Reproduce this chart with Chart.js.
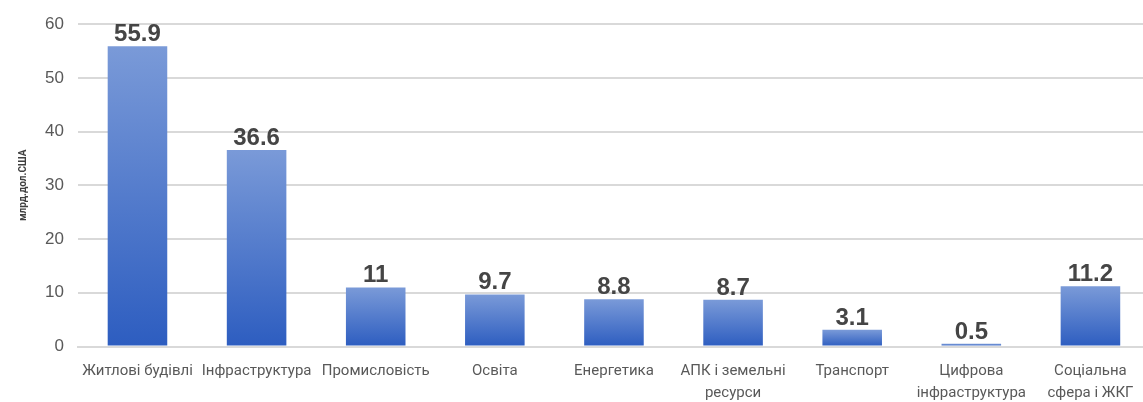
<!DOCTYPE html>
<html>
<head>
<meta charset="utf-8">
<script src="https://cdn.jsdelivr.net/npm/chart.js@4"></script>
<style>
  html, body { margin: 0; padding: 0; background: #fff; overflow: hidden; }
  #wrap { width: 1150px; height: 402px; }
</style>
</head>
<body>
<div id="wrap"><canvas id="chart" width="1150" height="402"></canvas></div>
<script>
// categories (multi-line where the original wraps)
const categories = [
    'Житлові будівлі',
    'Інфраструктура',
    'Промисловість',
    'Освіта',
    'Енергетика',
    ['АПК і земельні', 'ресурси'],
    'Транспорт',
    ['Цифрова', 'інфраструктура'],
    ['Соціальна', 'сфера і ЖКГ']
]
// values, млрд.дол.США
const values = [55.9, 36.6, 11, 9.7, 8.8, 8.7, 3.1, 0.5, 11.2]
const yTitle = 'млрд.дол.США'

// each bar gets its own fill: lighter on top, darker at the base
const barGradient = (context) => {
    const chart = context.chart
    const yScale = chart.scales.y
    if (!chart.chartArea || !yScale || context.dataIndex === undefined) return '#4472c4'
    const top = yScale.getPixelForValue(values[context.dataIndex])
    const bottom = yScale.getPixelForValue(0)
    const g = chart.ctx.createLinearGradient(0, top, 0, bottom + 0.01)
    g.addColorStop(0, '#7a9ad8')
    g.addColorStop(1, '#2d5dc0')
    return g
}

// value above each bar
const valueLabels = {
    id: 'valueLabels',
    afterDatasetsDraw(chart) {
        const ctx = chart.ctx
        const meta = chart.getDatasetMeta(0)
        ctx.save()
        ctx.font = 'bold 24px "Liberation Sans", sans-serif'
        ctx.fillStyle = '#454545'
        ctx.textAlign = 'center'
        ctx.textBaseline = 'alphabetic'
        meta.data.forEach((bar, i) => {
            ctx.fillText(String(values[i]), bar.x, bar.y - 5)
        })
        ctx.restore()
    }
}

new Chart(document.getElementById('chart'), {
    type: 'bar',
    data: {
        labels: categories,
        datasets: [{
            data: values,
            backgroundColor: barGradient,
            borderWidth: 0,
            categoryPercentage: 1,
            barPercentage: 0.5
        }]
    },
    options: {
        responsive: false,
        animation: false,
        layout: { padding: { top: 8, left: 15, right: 0, bottom: -16 } },
        plugins: {
            legend: { display: false },
            tooltip: { enabled: false }
        },
        scales: {
            y: {
                min: 0,
                max: 60,
                ticks: {
                    stepSize: 10,
                    color: '#595959',
                    padding: 14,
                    font: { family: 'Liberation Sans', size: 17 }
                },
                grid: { color: '#d9d9d9', lineWidth: 2, drawTicks: false },
                border: { display: false },
                title: {
                    display: true,
                    text: yTitle,
                    color: '#404040',
                    font: { family: 'Roboto', size: 10, weight: 'bold' },
                    padding: 2
                }
            },
            x: {
                ticks: {
                    color: '#595959',
                    maxRotation: 0,
                    autoSkip: false,
                    padding: 14,
                    font: { family: 'Roboto', size: 15, lineHeight: 1.45 }
                },
                grid: { display: false, drawTicks: false },
                border: { color: '#d9d9d9', width: 2 }
            }
        }
    },
    plugins: [valueLabels]
})
</script>
</body>
</html>
